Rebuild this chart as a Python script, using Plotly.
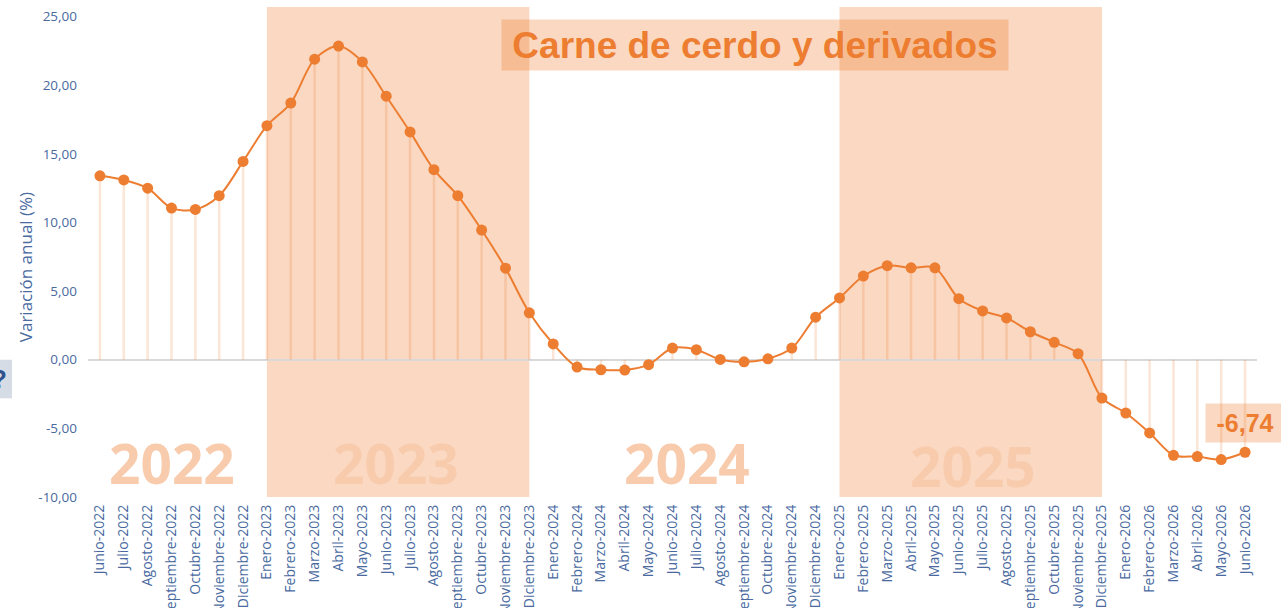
import plotly.graph_objects as go

# Variación anual (%) - Carne de cerdo y derivados
meses = [
    "Junio-2022", "Julio-2022", "Agosto-2022", "Septiembre-2022", "Octubre-2022",
    "Noviembre-2022", "Diciembre-2022",
    "Enero-2023", "Febrero-2023", "Marzo-2023", "Abril-2023", "Mayo-2023", "Junio-2023",
    "Julio-2023", "Agosto-2023", "Septiembre-2023", "Octubre-2023", "Noviembre-2023",
    "Diciembre-2023",
    "Enero-2024", "Febrero-2024", "Marzo-2024", "Abril-2024", "Mayo-2024", "Junio-2024",
    "Julio-2024", "Agosto-2024", "Septiembre-2024", "Octubre-2024", "Noviembre-2024",
    "Diciembre-2024",
    "Enero-2025", "Febrero-2025", "Marzo-2025", "Abril-2025", "Mayo-2025", "Junio-2025",
    "Julio-2025", "Agosto-2025", "Septiembre-2025", "Octubre-2025", "Noviembre-2025",
    "Diciembre-2025",
    "Enero-2026", "Febrero-2026", "Marzo-2026", "Abril-2026", "Mayo-2026", "Junio-2026",
]

variacion = [
    13.40, 13.10, 12.50, 11.05, 10.95, 11.95, 14.45,
    17.05, 18.70, 21.90, 22.85, 21.70, 19.20, 16.60, 13.85, 11.95, 9.45, 6.67, 3.42,
    1.15, -0.53, -0.73, -0.75, -0.36, 0.85, 0.73, 0.02, -0.15, 0.07, 0.85, 3.10,
    4.50, 6.10, 6.85, 6.70, 6.70, 4.45, 3.56, 3.05, 2.04, 1.27, 0.44, -2.79,
    -3.88, -5.33, -6.96, -7.05, -7.27, -6.74,
]

# ticks del eje y
y_ticks = [-10, -5, 0, 5, 10, 15, 20, 25]
y_ticktext = [("%.2f" % v).replace(".", ",") for v in y_ticks]

# años sombreados (inicio, fin)
sombreado = [("Enero-2023", "Diciembre-2023"), ("Enero-2025", "Diciembre-2025")]

anios = ["2022", "2023", "2024", "2025"]
anios_x = [3.0, 12.4, 24.6, 36.6]
anios_y = [-7.45, -7.45, -7.45, -7.7]

titulo = "Carne de cerdo y derivados"

naranja = "#ED7D31"
azul = "#4A6A9F"

fig = go.Figure()

fig.add_trace(go.Scatter(
    x=meses, y=variacion,
    mode="lines+markers",
    line=dict(color=naranja, width=2, shape="spline", smoothing=0.9),
    marker=dict(color=naranja, size=11),
    hoverinfo="x+y",
))

# líneas verticales hasta el cero
sx, sy = [], []
for m, v in zip(meses, variacion):
    sx += [m, m, None]
    sy += [0, v, None]
fig.add_trace(go.Scatter(
    x=sx, y=sy, mode="lines",
    line=dict(color="rgba(237,125,49,0.2)", width=2.5),
    hoverinfo="skip",
))

for x0, x1 in sombreado:
    fig.add_shape(type="rect", xref="x", yref="paper", x0=x0, x1=x1, y0=0, y1=1,
                  fillcolor="rgba(237,125,49,0.3)", line_width=0, layer="between")

for a, ax_, ay_ in zip(anios, anios_x, anios_y):
    fig.add_annotation(x=ax_, y=ay_, text="<b>%s</b>" % a, showarrow=False,
                       xanchor="center", yanchor="middle",
                       font=dict(family="Open Sans", size=55, color="#F8CBAD"))

fig.add_annotation(xref="paper", yref="paper", x=0.5706, y=0.922,
                   xanchor="center", yanchor="middle",
                   text="<b>%s</b>" % titulo, showarrow=False,
                   font=dict(family="Liberation Sans, Arial", size=37, color=naranja),
                   bgcolor="rgba(237,125,49,0.3)", width=506, height=50, borderpad=0)

# último valor
fig.add_annotation(x=meses[-1], y=variacion[-1], yshift=29,
                   xanchor="center", yanchor="middle",
                   text="<b>%s</b>" % ("%.2f" % variacion[-1]).replace(".", ","),
                   showarrow=False,
                   font=dict(family="Liberation Sans, Arial", size=25, color=naranja),
                   bgcolor="rgba(237,125,49,0.3)", width=78, height=38, borderpad=0)

# título del eje
fig.add_annotation(xref="paper", yref="paper", x=-0.0539, y=0.469,
                   xanchor="center", yanchor="middle",
                   text="Variación anual (%)", textangle=-90, showarrow=False,
                   font=dict(family="Open Sans", size=17, color=azul))

# recuadro recortado a la izquierda
fig.add_shape(type="rect", xref="paper", yref="y", x0=-0.12, x1=-0.065, y0=0, y1=-2.8,
              fillcolor="#D6DCE5", line_width=0)
fig.add_annotation(xref="paper", yref="y", x=-0.0761, y=-1.4, text="<b>?</b>",
                   xanchor="center", yanchor="middle",
                   showarrow=False, font=dict(family="Liberation Sans", size=26, color="#2F528F"))

fig.update_layout(
    width=1281, height=608,
    margin=dict(l=88, r=24, t=7, b=111),
    paper_bgcolor="white", plot_bgcolor="white",
    showlegend=False,
    font=dict(family="Open Sans", color=azul),
)
fig.update_xaxes(
    type="category", range=[-0.5, 48.5], tickangle=-90,
    tickfont=dict(family="Open Sans", size=14, color=azul),
    showgrid=False, showline=False, ticks="", ticklabelstandoff=4, automargin=False,
)
fig.update_yaxes(
    range=[-10, 25.7], tickvals=y_ticks, ticktext=y_ticktext,
    tickfont=dict(family="Open Sans", size=13.5, color=azul),
    showgrid=False, zeroline=True, zerolinecolor="#D9D9D9", zerolinewidth=2,
    showline=False, ticks="", ticklabelstandoff=10, automargin=False,
)

fig.write_html("out.html", config={"displayModeBar": False},
               post_script="document.body.style.margin='0';")
